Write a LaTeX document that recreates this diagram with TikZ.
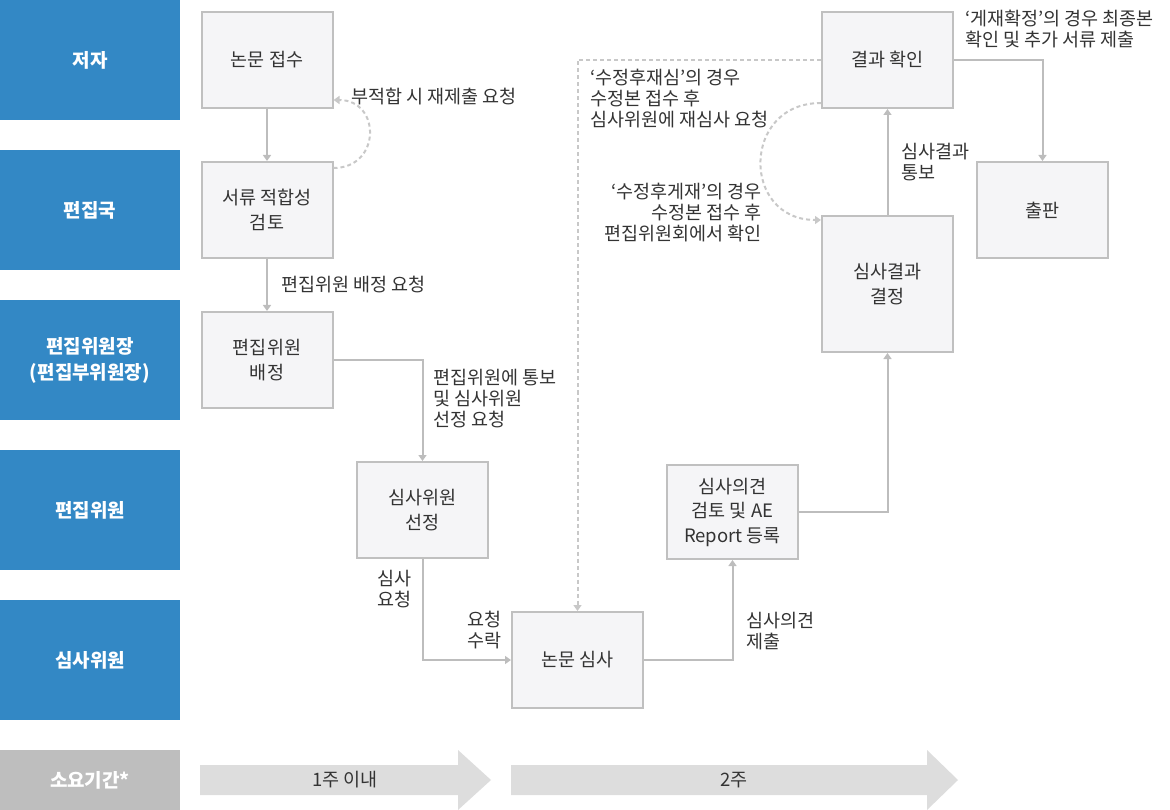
\documentclass[tikz,border=0pt]{standalone}
\usepackage{fontspec}
\setmainfont{Noto Sans CJK KR}
\usetikzlibrary{arrows.meta}

\definecolor{laneblue}{HTML}{3388C5}
\definecolor{lanegray}{HTML}{BEBEBE}
\definecolor{boxfill}{HTML}{F5F5F7}
\definecolor{boxline}{HTML}{C0C0C0}
\definecolor{wireline}{HTML}{BDBDBD}
\definecolor{dashline}{HTML}{C8C8C8}
\definecolor{txt}{HTML}{333333}
\definecolor{barfill}{HTML}{DDDDDD}

\tikzset{
  lane/.style={fill=laneblue, text=white, inner sep=0pt, align=center,
    minimum width=180pt, minimum height=120pt,
    font=\bfseries\fontsize{19}{26}\selectfont},
  stage/.style={draw=boxline, line width=2pt, fill=boxfill, text=txt, align=center,
    minimum width=131pt, minimum height=96pt,
    font=\fontsize{18.5}{24.5}\selectfont},
  note/.style={text=txt, inner sep=0pt, align=left,
    font=\fontsize{18.5}{21}\selectfont},
  flow/.style={draw=wireline, line width=2pt, -{Triangle[width=8pt,length=6pt]}},
  back/.style={flow, draw=dashline, dash pattern=on 4pt off 3pt}
}

\begin{document}
\begin{tikzpicture}[x=1pt,y=-1pt]
\useasboundingbox (0,0) rectangle (1170,810);

\node[lane] (author) at (90,60) {저자};
\node[lane] (office) at (90,210) {편집국};
\node[lane] (chief) at (90,360) {편집위원장\\(편집부위원장)};
\node[lane] (editor) at (90,510) {편집위원};
\node[lane] (referee) at (90,660) {심사위원};
\node[lane, fill=lanegray, minimum height=60pt] (period) at (90,780) {소요기간*};

\node[stage] (receipt) at (267,60) {논문 접수};
\node[stage] (screen) at (267,210) {서류 적합성\\검토};
\node[stage] (assign) at (267,360) {편집위원\\배정};
\node[stage] (select) at (422.5,510) {심사위원\\선정};
\node[stage] (review) at (577.5,660) {논문 심사};
\node[stage, minimum height=94pt] (opinion) at (732.5,512) {심사의견\\검토 및 AE\\Report 등록};
\node[stage, minimum height=136pt] (decide) at (887.5,284) {심사결과\\결정};
\node[stage] (result) at (887.5,60) {결과 확인};
\node[stage] (publish) at (1042.5,210) {출판};

\draw[flow] (receipt) -- (screen);
\draw[back] ([yshift=-7pt]screen.north east) to[out=0,in=0,looseness=1.8] ([yshift=9pt]receipt.south east);
\node[note, anchor=west] (resubmit) at (351,97) {부적합 시 재제출 요청};

\draw[flow] (screen) -- node[note, right=13pt] (askeditor) {편집위원 배정 요청} (assign);

\draw[flow] (assign.east) -| (select.north);
\node[note, anchor=west] (notify) at (433,399) {편집위원에 통보\\및 심사위원\\선정 요청};

\draw[flow] (select.south) |- (review.west);
\node[note, anchor=east, align=right] (askreview) at (412,589) {심사\\요청};
\node[note, anchor=east, align=right] (accept) at (502,630) {요청\\수락};

\draw[flow] (review.east) -| (opinion.south);
\node[note, anchor=west] (submit) at (746,631) {심사의견\\제출};

\draw[flow] (opinion.east) -| (decide.south);
\draw[flow] (decide.north) -- node[note, right=13pt] (inform) {심사결과\\통보} (result.south);

\draw[flow] (result.east) -| (publish.north);
\node[note, anchor=west] (final) at (965,29) {‘게재확정’의 경우 최종본\\확인 및 추가 서류 제출};

\draw[back] (result.west) -| (review.north);
\node[note, anchor=west] (rereview) at (590,99) {‘수정후재심’의 경우\\수정본 접수 후\\심사위원에 재심사 요청};
\draw[back] ([yshift=6pt]result.south west) to[out=180,in=180,looseness=1.75] ([yshift=-5pt]decide.north west);
\node[note, anchor=east, align=right] (revised) at (762,213) {‘수정후게재’의 경우\\수정본 접수 후\\편집위원회에서 확인};

\fill[barfill] (200,765) -- (458,765) -- (458,750) -- (491,780) -- (458,810) -- (458,795) -- (200,795) -- cycle;
\node[note] (week1) at (345,780) {1주 이내};
\fill[barfill] (511,765) -- (927,765) -- (927,750) -- (958,780) -- (927,810) -- (927,795) -- (511,795) -- cycle;
\node[note] (week2) at (734,780) {2주};
\end{tikzpicture}
\end{document}
